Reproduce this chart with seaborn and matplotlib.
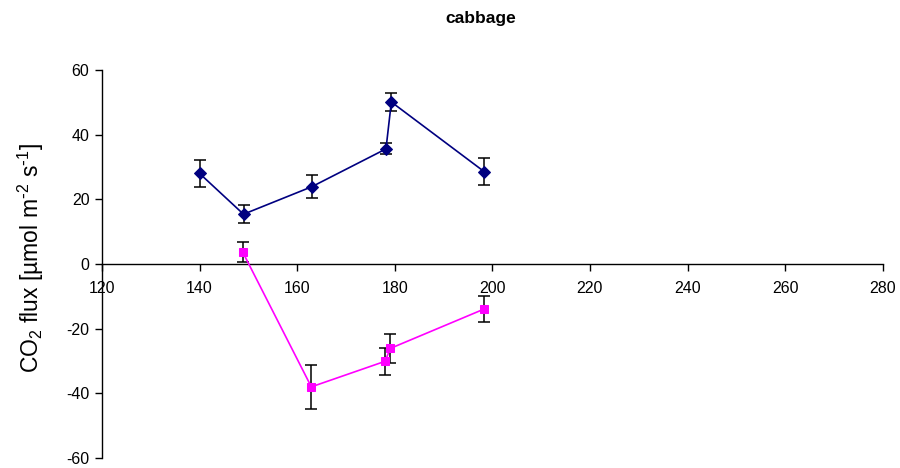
import matplotlib
matplotlib.use("Agg")
import matplotlib.pyplot as plt
import seaborn as sns
import numpy as np
import pandas as pd

# Data
day_a = [140, 149, 163, 178.2, 179.3, 198.3]
flux_a = [28.0, 15.4, 23.9, 35.6, 50.1, 28.6]
err_a = [4.3, 2.7, 3.6, 1.7, 2.8, 4.1]

day_b = [148.8, 162.9, 178.0, 179.1, 198.2]
flux_b = [3.8, -38.0, -30.1, -26.1, -14.0]
err_b = [3.1, 6.8, 4.2, 4.5, 4.0]

x_ticks = [120, 140, 160, 180, 200, 220, 240, 260, 280]
y_ticks = [-60, -40, -20, 0, 20, 40, 60]

sns.set_style("white")
plt.rcParams['font.family'] = ['Liberation Sans', 'DejaVu Sans']
plt.rcParams['mathtext.default'] = 'regular'
plt.rcParams['axes.unicode_minus'] = False
plt.rcParams['text.color'] = 'black'

fig = plt.figure(figsize=(9, 4.68), dpi=100)
ax = fig.add_axes([102/900, 1-458/468, (882.7-102)/900, (458-70)/468])

df_a = pd.DataFrame({"day": day_a, "flux": flux_a})
df_b = pd.DataFrame({"day": day_b, "flux": flux_b})

ax.errorbar(day_a, flux_a, yerr=err_a, fmt='none', ecolor='black',
            elinewidth=1.1, capsize=4, capthick=1.1, zorder=2)
ax.errorbar(day_b, flux_b, yerr=err_b, fmt='none', ecolor='black',
            elinewidth=1.1, capsize=4, capthick=1.1, zorder=2)

sns.lineplot(data=df_a, x="day", y="flux", ax=ax, color='#000080',
             marker='D', markersize=6.5, markeredgecolor='#000080',
             linewidth=1.2, sort=False, estimator=None, zorder=3)
sns.lineplot(data=df_b, x="day", y="flux", ax=ax, color='#FF00FF',
             marker='s', markersize=6, markeredgecolor='#FF00FF',
             linewidth=1.2, sort=False, estimator=None, zorder=3)

ax.set_xlim(120, 280)
ax.set_ylim(-60, 60)
ax.set_xticks(x_ticks)
ax.set_yticks(y_ticks)

ax.spines['top'].set_visible(False)
ax.spines['right'].set_visible(False)
ax.spines['bottom'].set_position(('data', 0))
for s in ('left', 'bottom'):
    ax.spines[s].set_color('black')
    ax.spines[s].set_linewidth(1.0)

ax.tick_params(axis='both', which='major', labelsize=11.5, colors='black',
               direction='out', length=5, width=1, bottom=True, left=True)
ax.tick_params(axis='x', pad=7)
ax.tick_params(axis='y', pad=4)

ax.set_xlabel("")
ax.set_ylabel("CO$_2$ flux [µmol m$^{\\text{-}2}$ s$^{\\text{-}1}$]", fontsize=16.5,
              color='black')
ax.yaxis.set_label_coords(-0.072, 0.515)

fig.text(481/900, 1-18/468, "cabbage", ha='center', va='center',
         fontsize=12.5, fontweight='bold', color='black')

fig.savefig("out.png", dpi=100)
